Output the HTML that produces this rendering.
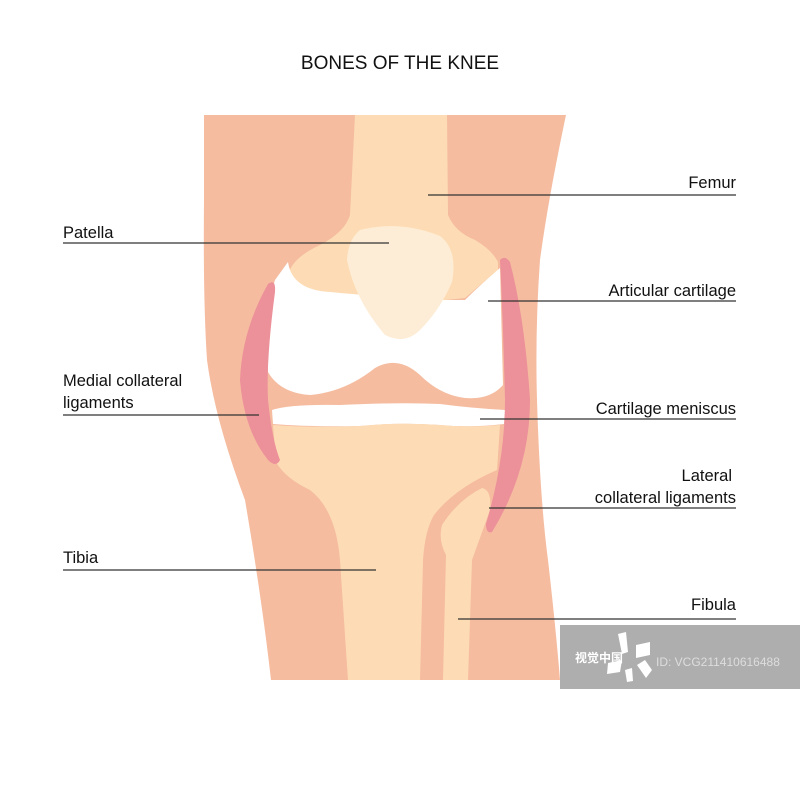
<!DOCTYPE html>
<html><head><meta charset="utf-8"><style>
html,body{margin:0;padding:0;background:#fff;}
svg{display:block;}
text{font-family:"Liberation Sans","Noto Sans CJK SC",sans-serif;fill:#111;}
</style></head><body>
<svg width="800" height="800" viewBox="0 0 800 800" xmlns="http://www.w3.org/2000/svg">
<rect width="800" height="800" fill="#fff"/>
<text x="400" y="69" font-size="19" text-anchor="middle">BONES OF THE KNEE</text>
<path d="M204,115 L566,115 Q548,200 540,260 Q535,330 537,400 Q540,500 548,560 Q556,630 560,680 L271,680 Q262,600 245,500 Q215,420 207,360 Q203,300 204,200 Z" fill="#f5bca0"/>
<path d="M355,115 L447,115 L448,215 Q455,232 475,240 Q492,250 498,262 L498,270 Q480,285 465,298 L445,300 Q380,300 330,298 Q295,290 288,275 Q292,258 320,245 Q345,232 350,215 Z" fill="#fddcb5"/>
<path d="M288,262 Q292,290 330,292 Q370,296 440,300 L465,300 Q480,285 500,268 L503,385 Q490,400 465,398 Q440,395 420,375 Q398,355 375,368 Q345,392 310,395 Q280,393 268,372 Q262,320 275,280 Z" fill="#fff"/>
<path d="M360,230 Q400,220 440,236 Q458,250 452,282 Q440,310 420,330 Q405,345 385,335 Q355,300 347,260 Q348,240 360,230 Z" fill="#feedd6"/>
<path d="M272,410 Q290,404 340,405 Q400,402 440,404 Q470,408 505,410 L504,424 Q470,428 440,425 Q400,422 360,426 Q310,427 273,424 Z" fill="#fff"/>
<path d="M273,425 Q310,428 360,426 Q400,422 440,425 Q470,428 500,425 L497,470 Q455,488 434,515 Q425,530 423,560 L420,680 L348,680 L340,560 Q336,510 310,490 Q285,478 276,462 Z" fill="#fddcb5"/>
<path d="M443,680 L446,555 Q438,540 442,525 Q458,500 482,488 Q492,490 490,510 L472,560 L468,680 Z" fill="#fddcb5"/>
<path d="M268,284 Q276,278 275,292 Q266,360 268,400 Q272,440 280,460 Q276,468 268,460 Q244,430 240,380 Q242,330 268,284 Z" fill="#ec9099"/>
<path d="M500,260 Q505,255 510,262 Q525,320 530,400 Q530,470 492,532 Q486,534 486,524 Q505,460 505,400 Q503,320 500,260 Z" fill="#ec9099"/>
<g stroke="#333" stroke-width="1.2">
<line x1="428" y1="195" x2="736" y2="195"/>
<line x1="63" y1="243" x2="389" y2="243"/>
<line x1="488" y1="301" x2="736" y2="301"/>
<line x1="63" y1="415" x2="259" y2="415"/>
<line x1="480" y1="419" x2="736" y2="419"/>
<line x1="489" y1="508" x2="736" y2="508"/>
<line x1="63" y1="570" x2="376" y2="570"/>
<line x1="458" y1="619" x2="736" y2="619"/>
</g>
<g font-size="16.5">
<text x="736" y="188" text-anchor="end">Femur</text>
<text x="63" y="238">Patella</text>
<text x="736" y="296" text-anchor="end">Articular cartilage</text>
<text x="63" y="386">Medial collateral</text>
<text x="63" y="408">ligaments</text>
<text x="736" y="414" text-anchor="end">Cartilage meniscus</text>
<text x="732" y="481" text-anchor="end">Lateral</text>
<text x="736" y="503" text-anchor="end">collateral ligaments</text>
<text x="63" y="563">Tibia</text>
<text x="736" y="610" text-anchor="end">Fibula</text>
</g>
<rect x="560" y="625" width="240" height="64" fill="#9a9a9a" fill-opacity="0.8"/>
<text x="575" y="662" font-size="12" font-weight="bold" style="fill:#fff">视觉中国</text>
<g fill="#fff">
<path d="M618,634 L626,632 L628,652 L622,654 Z"/>
<path d="M636,645 L650,642 L650,655 L636,658 Z"/>
<path d="M608,663 L622,660 L620,672 L607,674 Z"/>
<path d="M625,670 L632,668 L633,681 L627,682 Z"/>
<path d="M637,665 L645,660 L652,670 L646,678 Z"/>
</g>
<text x="656" y="666" font-size="12" style="fill:#ddd">ID: VCG211410616488</text>
</svg>
</body></html>
